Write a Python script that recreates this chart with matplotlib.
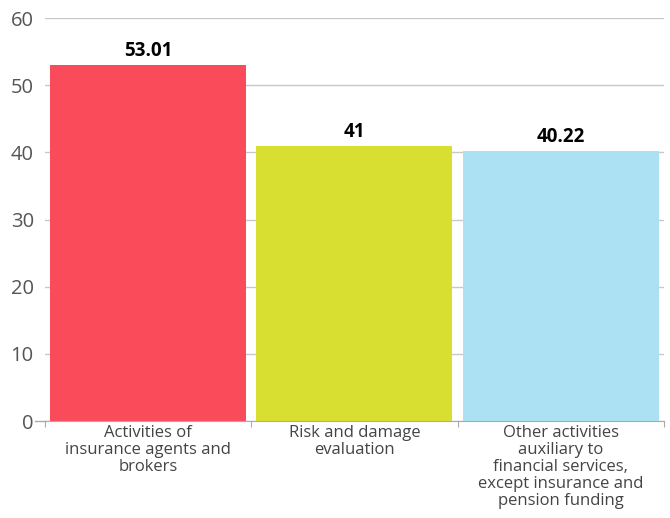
import matplotlib
matplotlib.use('Agg')
import matplotlib.pyplot as plt

categories = ["Activities of\ninsurance agents and\nbrokers",
              "Risk and damage\nevaluation",
              "Other activities\nauxiliary to\nfinancial services,\nexcept insurance and\npension funding"]
values = [53.01, 41, 40.22]
value_labels = ["53.01", "41", "40.22"]
colors = ['#FA4B5B', '#D8DF31', '#ACE1F4']

plt.rcParams['font.family'] = ['Open Sans', 'DejaVu Sans']

fig = plt.figure(figsize=(6.7, 5.18), dpi=100)
ax = fig.add_axes([0.067, 0.187, 0.924, 0.778])

x = range(len(values))
ax.bar(x, values, width=0.95, color=colors, zorder=2)
for i, v in enumerate(values):
    ax.text(i, v + 0.6, value_labels[i], ha='center', va='bottom',
            fontsize=13.5, fontweight='bold', color='black')

ax.set_xlim(-0.5, 2.5)
ax.set_ylim(0, 60)
ax.set_yticks([0, 10, 20, 30, 40, 50, 60])
ax.yaxis.grid(True, color='#c8c8c8', linewidth=1, zorder=0)
ax.set_axisbelow(True)
ax.tick_params(axis='y', length=0, labelsize=14.5, labelcolor='#555555', pad=8)

ax.set_xticks([-0.5, 0.5, 1.5, 2.5])
ax.set_xticklabels([])
ax.set_xticks([0, 1, 2], minor=True)
ax.set_xticklabels(categories, minor=True, fontsize=12, color='#444444',
                   linespacing=1.07)
ax.tick_params(axis='x', which='major', length=4, color='#aaaaaa')
ax.tick_params(axis='x', which='minor', length=0, pad=3)

for s in ['top', 'right', 'left']:
    ax.spines[s].set_visible(False)
ax.spines['bottom'].set_color('#aaaaaa')

# small tick at 0 extending to the left
ax.plot([-0.55, -0.5], [0, 0], color='#aaaaaa', linewidth=1, clip_on=False)

fig.savefig('out.png', dpi=100)
